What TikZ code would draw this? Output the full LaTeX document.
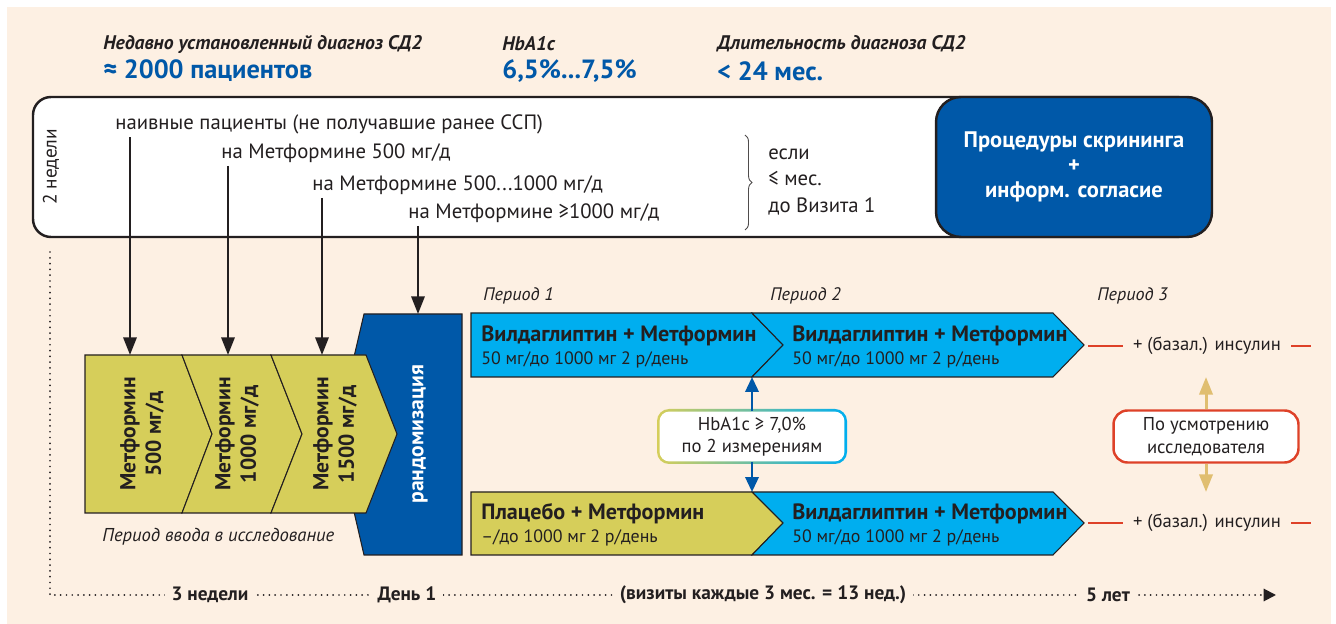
\documentclass[tikz,border=0pt]{standalone}
\usepackage{fontspec}
\setmainfont{PT Sans}
\usepackage{tikz}
\usetikzlibrary{arrows.meta}
\usetikzlibrary{positioning}
\usetikzlibrary{calc}
\usetikzlibrary{decorations.pathreplacing}
\definecolor{cream}{RGB}{253,240,227}
\definecolor{darkblue}{RGB}{0,88,168}
\definecolor{skyblue}{RGB}{0,174,239}
\definecolor{olive}{RGB}{214,206,90}
\definecolor{redline}{RGB}{222,65,40}
\definecolor{gold}{RGB}{224,190,112}
\definecolor{ink}{RGB}{35,31,32}
\tikzstyle{header}=[anchor=west,inner sep=0pt,text=ink,font=\fontsize{11.2}{13}\selectfont\bfseries\itshape]
\tikzstyle{bignum}=[anchor=west,inner sep=0pt,text=darkblue,font=\fontsize{15}{17}\selectfont\bfseries]
\tikzstyle{boxtext}=[anchor=west,inner sep=0pt,text=ink,font=\fontsize{11.8}{15.3}\selectfont]
\tikzstyle{chev}=[draw=ink,line width=0.6pt,fill=olive]
\tikzstyle{chevtext}=[rotate=90,align=center,text=ink,font=\fontsize{12.3}{14.5}\selectfont\bfseries]
\tikzstyle{arr}=[ink,line width=1.4pt,-{Triangle[length=10pt,width=7.5pt]}]
\tikzstyle{period}=[anchor=west,inner sep=0pt,text=ink,font=\fontsize{10.3}{12}\selectfont\itshape]
\tikzstyle{bar}=[draw=ink,line width=0.6pt]
\tikzstyle{bartitle}=[anchor=west,inner sep=0pt,text=ink,font=\fontsize{12.6}{14}\selectfont\bfseries]
\tikzstyle{bardose}=[anchor=west,inner sep=0pt,text=ink,font=\fontsize{10.2}{12}\selectfont]
\tikzstyle{redl}=[redline,line width=1.7pt]
\tikzstyle{plain}=[inner sep=0pt,text=ink,font=\fontsize{10.6}{12.8}\selectfont,align=center]
\tikzstyle{timelabel}=[fill=cream,inner xsep=4pt,inner ysep=2pt,text=ink,font=\fontsize{11}{12}\selectfont\bfseries]

\begin{document}
\begin{tikzpicture}[x=0.02cm,y=-0.02cm]
\useasboundingbox (0,0) rectangle (1336,624);
\fill[cream] (7,7) rectangle (1331,624);

% header
\node[header] (diag) at (103,44) {Недавно установленный диагноз СД2};
\node[bignum] (npat) at (103,71) {≈ 2000 пациентов};
\node[header] (hbahead) at (502,44) {HbA1c};
\node[bignum] (hbarange) at (502,71) {6,5\%...7,5\%};
\node[header] (durhead) at (717,44) {Длительность диагноза СД2};
\node[bignum] (durval) at (717,71) {< 24 мес.};

% screening box
\draw[line width=1.4pt,draw=ink,fill=white,rounded corners=0.36cm] (33,97) rectangle (1195,237);
\node[rotate=90,inner sep=0pt,text=ink,font=\fontsize{11}{13}\selectfont] (weeks2) at (51,167) {2 недели};
\node[boxtext] (naive) at (115,124) {наивные пациенты (не получавшие ранее ССП)};
\node[boxtext] (met500) at (221,153) {на Метформине 500 мг/д};
\node[boxtext] (met1000) at (312,185) {на Метформине 500...1000 мг/д};
\node[boxtext] (metmax) at (408,213) {на Метформине ≥1000 мг/д};
\draw[ink!80,line width=0.5pt,decorate,decoration={brace,amplitude=4pt}] (745,135) -- (745,230);
\node[boxtext,align=left] (ifnote) at (768,182) {если\\≤ мес.\\до Визита 1};
\node[draw=ink,line width=1.4pt,fill=darkblue,rounded corners=0.5cm,minimum width=5.52cm,minimum height=2.8cm,
  text=white,align=center,font=\fontsize{12.8}{14.2}\selectfont\bfseries] (screen) at (1074,167)
  {Процедуры скрининга\\+\\информ. согласие};

% run-in period
\draw[draw=ink,line width=0.6pt,fill=darkblue] (364,314) -- (462,314) -- (462,555) -- (364,555) -- (336,434) -- cycle;
\node[rotate=90,text=white,font=\fontsize{12.3}{14}\selectfont\bfseries] (rand) at (420,434) {рандомизация};
\draw[chev] (85,355) -- (182,355) -- (212,434) -- (182,513) -- (85,513) -- cycle;
\draw[chev] (182,355) -- (271,355) -- (302,434) -- (271,513) -- (182,513) -- (212,434) -- cycle;
\draw[chev] (271,355) -- (366,355) -- (397,434) -- (366,513) -- (271,513) -- (302,434) -- cycle;
\node[chevtext] (dose1) at (142,434) {Метформин\\500 мг/д};
\node[chevtext] (dose2) at (237,434) {Метформин\\1000 мг/д};
\node[chevtext] (dose3) at (335,434) {Метформин\\1500 мг/д};
\node[period,font=\fontsize{10.6}{12}\selectfont\itshape] (runin) at (102,537) {Период ввода в исследование};

\coordinate (in1) at (130,355);
\coordinate (in2) at (228,355);
\coordinate (in3) at (322,355);
\coordinate (randtop) at (418,314);
\draw[arr] (naive.south -| in1) ++(0,3) -- (in1);
\draw[arr] (met500.south -| in2) ++(0,3) -- (in2);
\draw[arr] (met1000.south -| in3) ++(0,3) -- (in3);
\draw[arr] (metmax.south -| randtop) ++(0,3) -- (randtop);

% treatment periods
\node[period] (per1) at (483,296) {Период 1};
\node[period] (per2) at (770,296) {Период 2};
\node[period] (per3) at (1097,296) {Период 3};

\draw[bar,fill=skyblue] (471,313) -- (752,313) -- (783,345) -- (752,377) -- (471,377) -- cycle;
\draw[bar,fill=skyblue] (752,313) -- (1053,313) -- (1084,345) -- (1053,377) -- (752,377) -- (783,345) -- cycle;
\draw[bar,fill=olive] (471,492) -- (752,492) -- (783,523) -- (752,555) -- (471,555) -- cycle;
\draw[bar,fill=skyblue] (752,492) -- (1053,492) -- (1084,523) -- (1053,555) -- (752,555) -- (783,523) -- cycle;

\node[bartitle] (vm1) at (481,336) {Вилдаглиптин + Метформин};
\node[bardose] (vm1d) at (481,360) {50 мг/до 1000 мг 2 р/день};
\node[bartitle] (vm2) at (792,336) {Вилдаглиптин + Метформин};
\node[bardose] (vm2d) at (792,360) {50 мг/до 1000 мг 2 р/день};
\node[bartitle] (pm1) at (481,514) {Плацебо + Метформин};
\node[bardose] (pm1d) at (481,538) {–/до 1000 мг 2 р/день};
\node[bartitle] (vm3) at (792,514) {Вилдаглиптин + Метформин};
\node[bardose] (vm3d) at (792,538) {50 мг/до 1000 мг 2 р/день};

% insulin
\node[plain] (insA) at (1207,346) {+ (базал.) инсулин};
\node[plain] (insB) at (1207,523) {+ (базал.) инсулин};
\draw[redl] (1088,346) -- (1123,346);
\draw[redl] (1291,346) -- (1311,346);
\draw[redl] (1088,523) -- (1123,523);
\draw[redl] (1291,523) -- (1311,523);

% switch criterion
\shade[left color=olive,right color=skyblue,rounded corners=0.24cm] (657,409) rectangle (847,464);
\node[fill=white,rounded corners=0.2cm,minimum width=3.7cm,minimum height=1.0cm,plain] (hba) at (752,436.5)
  {HbA1c ≥ 7,0\%\\по 2 измерениям};
\coordinate (junA) at (752,377);
\coordinate (junB) at (752,492);
\draw[darkblue,line width=1.6pt,-{Triangle[length=8.5pt,width=7.5pt]}] (hba.north) -- (junA);
\draw[darkblue,line width=1.6pt,-{Triangle[length=8.5pt,width=7.5pt]}] (hba.south) -- (junB);

\node[draw=redline,line width=1.4pt,fill=white,rounded corners=0.28cm,minimum width=3.7cm,minimum height=1.04cm,plain] (judge) at (1206,436.5)
  {По усмотрению\\исследователя};
\draw[gold,line width=1.7pt,-{Triangle[length=10pt,width=7.5pt]}] (judge.north) -- (1206,377);
\draw[gold,line width=1.7pt,-{Triangle[length=10pt,width=7.5pt]}] (judge.south) -- (1206,492);

% timeline
\draw[ink,line width=1.1pt,line cap=round,dash pattern=on 0pt off 3.3pt,-{Triangle[length=7pt,width=7pt]}] (50,252) -- (50,595) -- (1276,595);
\node[timelabel] (t1) at (210,595) {3 недели};
\node[timelabel] (t2) at (407,595) {День 1};
\node[timelabel] (t3) at (763,595) {(визиты каждые 3 мес. = 13 нед.)};
\node[timelabel] (t4) at (1108,595) {5 лет};
\end{tikzpicture}
\end{document}
